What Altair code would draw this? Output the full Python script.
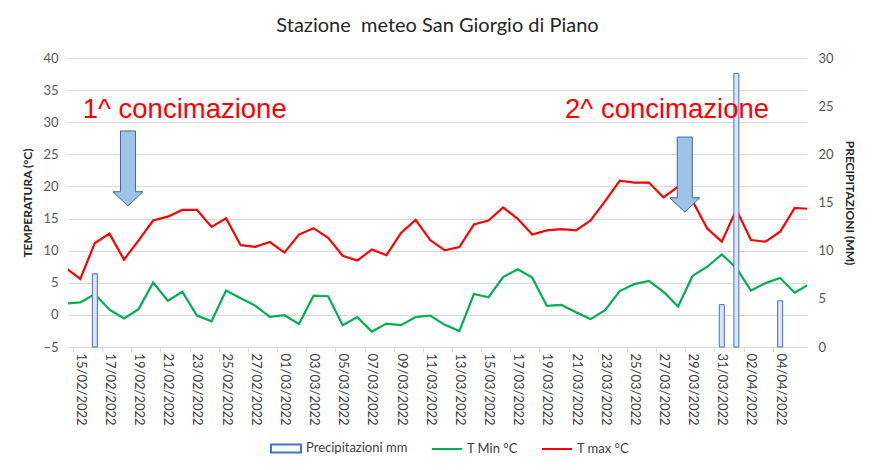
import altair as alt
import pandas as pd

# ---- data ----
dates = pd.date_range("2022-02-14", "2022-04-06", freq="D").strftime("%Y-%m-%d").tolist()

t_max = [7.3, 5.6, 11.2, 12.65, 8.6, 11.6, 14.7, 15.3, 16.35, 16.35,
         13.7, 15.05, 10.85, 10.6, 11.35, 9.7, 12.5, 13.5, 12.0, 9.2,
         8.45, 10.2, 9.3, 12.75, 14.8, 11.65, 10.05, 10.55, 14.1, 14.7,
         16.75, 14.95, 12.5, 13.15, 13.35, 13.15, 14.7, 17.7, 20.9, 20.6,
         20.6, 18.3, 19.95, 17.7, 13.45, 11.4, 16.4, 11.65, 11.4, 12.95,
         16.65, 16.5]

t_min = [1.75, 1.95, 3.25, 0.8, -0.55, 0.9, 5.05, 2.2, 3.6, -0.1,
         -1.0, 3.8, 2.6, 1.45, -0.3, -0.05, -1.4, 3.0, 2.9, -1.6,
         -0.35, -2.6, -1.35, -1.6, -0.35, -0.1, -1.55, -2.5, 3.25, 2.75,
         5.9, 7.1, 5.8, 1.4, 1.55, 0.4, -0.65, 0.75, 3.7, 4.8,
         5.3, 3.6, 1.3, 6.1, 7.5, 9.4, 7.3, 3.8, 4.95, 5.75,
         3.45, 4.8]

rain_dates = ["2022-02-16", "2022-03-31", "2022-04-01", "2022-04-04"]
rain_mm = [7.6, 4.4, 28.4, 4.8]

label_dates = pd.date_range("2022-02-15", "2022-04-04", freq="2D").strftime("%Y-%m-%d").tolist()

series_names = ["Precipitazioni mm", "T Min °C", "T max °C"]
series_colors = ["#4472c4", "#00b050", "#ff0000"]

ann_text = ["1^ concimazione", "2^ concimazione"]
ann_date = ["2022-02-15T04:00:00Z", "2022-03-20T06:00:00Z"]
ann_temp = [30.7, 30.7]

arrow_date = ["2022-02-18T06:30:00Z", "2022-03-28T11:00:00Z"]
arrow_temp = [22.8, 21.85]

# ---- tables ----
lines_df = pd.DataFrame({
    "date": dates * 2,
    "value": t_min + t_max,
    "series": ["T Min °C"] * len(dates) + ["T max °C"] * len(dates),
})
rain_df = pd.DataFrame({"date": rain_dates, "mm": rain_mm})
ann_df = pd.DataFrame({"date": ann_date, "temp": ann_temp, "text": ann_text})
arrow_df = pd.DataFrame({"date": arrow_date, "temp": arrow_temp})
legend_df = pd.DataFrame({"series": series_names})

W, H = 739, 289
half_day = W / 50 / 2

def dt(s, hours=0):
    y, m, d = [int(p) for p in s.split("-")]
    return alt.DateTime(year=y, month=m, date=d, hours=hours, utc=True)

x_axis = alt.Axis(
    values=[dt(s) for s in label_dates],
    labelExpr="utcFormat(datum.value, '%d/%m/%Y')",
    labelAngle=90, labelAlign="left", labelBaseline="middle",
    labelFont="Lato", labelFontSize=13, labelColor="#404040",
    labelPadding=1, tickOffset=-half_day, labelOffset=half_day,
    tickColor="#d9d9d9", tickSize=5, domainColor="#d9d9d9",
    grid=False, title=None, labelOverlap=False,
)
x_scale = alt.Scale(type="utc", domain=[dt("2022-02-14", 12), dt("2022-04-05", 12)])
x_enc = alt.X("date:T", scale=x_scale, axis=x_axis)

temp_scale = alt.Scale(domain=[-5, 40], nice=False)

legend = alt.Legend(
    orient="none", legendX=202, legendY=374, direction="horizontal", title=None,
    labelFont="Lato", labelFontSize=13, labelColor="#404040",
    symbolSize=900, columnPadding=20, labelOffset=4,
    symbolStrokeWidth=2, symbolFillColor="#dbe5f5", symbolOpacity=1,
)
color_enc = alt.Color("series:N", scale=alt.Scale(domain=series_names, range=series_colors), legend=legend)
rect_path = "M-1,-0.27L1,-0.27L1,0.27L-1,0.27Z"
line_path = "M-1,0L1,0"
shape_enc = alt.Shape("series:N", scale=alt.Scale(domain=series_names, range=[rect_path, line_path, line_path]),
                      legend=legend)

lines = alt.Chart(lines_df).mark_line(strokeWidth=2.2, clip=True).encode(
    x=x_enc,
    y=alt.Y("value:Q", scale=temp_scale,
            axis=alt.Axis(orient="left", values=list(range(-5, 41, 5)), title="TEMPERATURA  (°C)",
                          labelFont="Lato", labelFontSize=13, labelColor="#595959", labelPadding=10,
                          titleFont="Lato", titleFontSize=12, titleFontWeight="bold", titleColor="#262626",
                          titlePadding=8, domain=False, ticks=False, gridColor="#d9d9d9")),
    color=color_enc,
    detail="series:N",
)

bars = alt.Chart(rain_df).mark_bar(size=5, fill="#dbe5f5", stroke="#4472c4", strokeWidth=1).encode(
    x=x_enc,
    y=alt.Y("mm:Q", scale=alt.Scale(domain=[0, 30], nice=False),
            axis=alt.Axis(orient="right", values=list(range(0, 31, 5)), title="PRECIPITAZIONI (MM)",
                          labelFont="Lato", labelFontSize=13, labelColor="#595959", labelPadding=11,
                          titleFont="Lato", titleFontSize=12, titleFontWeight="bold", titleColor="#262626",
                          titlePadding=9, domain=False, ticks=False, grid=False)),
)

arrow_path = "M-0.2,-1L0.2,-1L0.2,0.62L0.4,0.62L0,1L-0.4,0.62L-0.2,0.62Z"
arrows = alt.Chart(arrow_df).mark_point(
    shape=arrow_path, size=5625, filled=True, fill="#9dc3e6", stroke="#41679e",
    strokeWidth=1, opacity=1,
).encode(
    x=x_enc,
    y=alt.Y("temp:Q", scale=temp_scale, axis=None),
)

texts = alt.Chart(ann_df).mark_text(
    font="Liberation Sans", fontSize=27.5, color="#ff0000", align="left", baseline="alphabetic",
).encode(
    x=x_enc,
    y=alt.Y("temp:Q", scale=temp_scale, axis=None),
    text="text:N",
)

legend_pts = alt.Chart(legend_df).mark_point(size=0, filled=False, opacity=0).encode(
    color=color_enc, shape=shape_enc,
)

chart = alt.layer(lines, bars, arrows + texts + legend_pts).resolve_scale(y="independent").properties(
    width=W, height=H,
    title=alt.TitleParams("Stazione\u00a0 meteo San Giorgio di Piano", font="Lato", fontSize=20,
                          fontWeight="normal", color="#262626", offset=16),
    autosize=alt.AutoSizeParams(type="none"),
    padding={"left": 60, "top": 50, "right": 61, "bottom": 115},
).configure_view(stroke=None)

chart.save("out.html", embed_options={"renderer": "svg", "actions": False})
